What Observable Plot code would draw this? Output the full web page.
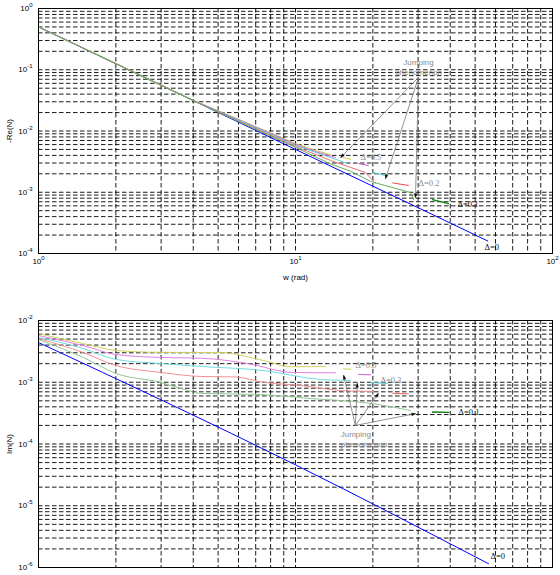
<!DOCTYPE html>
<html><head><meta charset="utf-8">
<script src="https://cdn.jsdelivr.net/npm/d3@7"></script>
<script src="https://cdn.jsdelivr.net/npm/@observablehq/plot@0.6"></script>
<style>
html,body{margin:0;padding:0;background:#fff;}
#chart{width:560px;height:575px;overflow:hidden;}
#chart svg{display:block;}
</style></head><body><div id="chart"></div>
<script>
// ---------- tick labels ----------
const xTicks = [1, 10, 100];
const yTicksTop = [1e-4, 1e-3, 1e-2, 1e-1, 1];
const yTicksBot = [1e-6, 1e-5, 1e-4, 1e-3, 1e-2];

// ---------- top panel: -Re(N) ----------
const wRe0 = [1, 3, 10, 30, 56];
const re0  = [0.5, 0.056, 0.005, 5.6e-4, 1.6e-4];            // Δ=0
const wReA = [1, 2, 4, 7, 10, 12, 13.7];
const reA  = [0.505, 0.127, 0.0318, 0.0118, 0.00626, 0.0048, 0.0041];   // Δ=0.5
const wReAj = [15.3, 16.4];      const reAj = [3.7e-3, 3.45e-3];
const wReB = [1, 2, 4, 7, 10, 12, 14.3];
const reB  = [0.503, 0.126, 0.0316, 0.0116, 0.00605, 0.0046, 0.0037];   // Δ=0.4
const wReBj = [17.6, 19.2];      const reBj = [2.95e-3, 2.73e-3];
const wReC = [1, 2, 4, 7, 10, 13.7, 15.9];
const reC  = [0.502, 0.126, 0.0315, 0.0114, 0.00581, 0.0037, 0.00295]; // Δ=0.3
const wReCj = [19.9, 22.4];      const reCj = [2.1e-3, 1.88e-3];
const wReD = [1, 2, 4, 7, 10, 13.7, 16.4, 18.7, 20.5];
const reD  = [0.501, 0.125, 0.0314, 0.011, 0.0056, 0.0033, 0.00254, 0.0021, 0.00139]; // Δ=0.2
const wReDj = [23.9, 27.5];      const reDj = [1.42e-3, 1.29e-3];
const wReE = [1, 2, 4, 7, 10, 13.7, 16.4, 19.6, 28, 28.8];
const reE  = [0.5, 0.125, 0.0313, 0.0106, 0.0054, 0.0029, 0.0022, 0.0015, 9.9e-4, 7.6e-4]; // Δ=0.1
const wReEj = [34.1, 39.4];      const reEj = [7.6e-4, 6.5e-4];

// ---------- bottom panel: Im(N) ----------
const wIm0 = [1, 10, 56.4];
const im0  = [4.4e-3, 4.6e-5, 1.15e-6];                         // Δ=0
const wImA = [1, 1.5, 2, 3, 5.1, 7.5, 9.6, 13.1];
const imA  = [6.15e-3, 4.2e-3, 3.27e-3, 3.05e-3, 3.03e-3, 2.25e-3, 1.78e-3, 1.8e-3];
const wImAj = [15.4, 16.4];      const imAj = [1.65e-3, 1.62e-3];
const wImB = [1, 1.5, 2, 3, 4.3, 6.5, 9.8, 14.3];
const imB  = [5.71e-3, 3.9e-3, 2.81e-3, 2.52e-3, 2.45e-3, 2.01e-3, 1.44e-3, 1.42e-3];
const wImBj = [17.6, 19.6];      const imBj = [1.34e-3, 1.32e-3];
const wImC = [1, 1.5, 2, 3, 4.3, 7.5, 12.5, 16.4];
const imC  = [5.31e-3, 3.5e-3, 2.34e-3, 2.01e-3, 1.8e-3, 1.55e-3, 1.11e-3, 1.07e-3];
const wImCj = [19.6, 22.8];      const imCj = [9.9e-4, 9.55e-4];
const wImD = [1, 1.5, 2, 3, 4.3, 5.8, 7.5, 10.5, 15, 20.1];
const imD  = [5.12e-3, 3.0e-3, 1.87e-3, 1.44e-3, 1.24e-3, 1.22e-3, 1.0e-3, 8.85e-4, 7.35e-4, 7.1e-4];
const wImDj = [23.9, 27.5];      const imDj = [6.6e-4, 6.5e-4];
const wImE = [1, 1.5, 2, 3, 3.7, 4.3, 7.3, 11.4, 20, 28];
const imE  = [4.93e-3, 2.5e-3, 1.39e-3, 9.9e-4, 7.6e-4, 6.6e-4, 6.33e-4, 5.46e-4, 4.5e-4, 3.49e-4];
const wImEj = [34.1, 39.4];      const imEj = [3.3e-4, 3.25e-4];

// ---------- annotations ----------
const topLabelText = ["Δ=0.5", "Δ=0.2", "Δ=0.1", "Δ=0"];
const topLabelW = [17.9, 30.1, 42.7, 54.4];
const topLabelV = [3.7e-3, 1.4e-3, 6.3e-4, 1.25e-4];
const topLabelDark = [false, false, true, true];
const botLabelText = ["Δ=0.5", "Δ=0.3", "Δ=0.1", "Δ=0"];
const botLabelW = [17.1, 21.4, 43.1, 57.4];
const botLabelV = [1.87e-3, 1.07e-3, 3.24e-4, 1.51e-6];
const botLabelDark = [false, false, true, true];
const noteText = ["Jumping", "phenomenon"];
const topNoteW = [30.1, 30.1];   const topNoteV = [0.131, 0.09];
const botNoteW = [15.0, 15.0];   const botNoteV = [1.43e-4, 9.8e-5];
const topArrowFrom = [30.1, 0.075];
const topArrowTipW = [15.0, 22.4, 29.3];
const topArrowTipV = [3.7e-3, 1.68e-3, 8.2e-4];
const botArrowFrom = [17.1, 2.0e-4];
const botArrowTipW = [15.4, 17.4, 21.0, 29.3];
const botArrowTipV = [1.29e-3, 9.55e-4, 6.57e-4, 3.1e-4];

// ---------- helpers ----------
const sansFont = "'Liberation Sans', Arial, Helvetica, sans-serif";
const serifFont = "'Liberation Serif', 'Times New Roman', serif";
const pts = (ws, vs) => ws.map((w, i) => ({w, v: vs[i]}));
function grid(lo, hi) { const g = []; for (let e = lo; e < hi; e++) for (let k = 1; k < 10; k++) g.push(+(k * Math.pow(10, e)).toPrecision(6)); g.push(Math.pow(10, hi)); return g; }
const expFmt = d => "10^" + Math.round(Math.log10(d));
const gridStyle = {stroke: "#000", strokeWidth: 0.9, strokeDasharray: "4.5,2.5"};
const labels = (txt, ws, vs, dark) => txt.map((t, i) => ({t, w: ws[i], v: vs[i], c: dark[i] ? "#111" : "#8a8a8a"}));
const arrows = (from, tw, tv) => tw.map((w, i) => ({x1: from[0], y1: from[1], x2: w, y2: tv[i]}));

function lineMarks(list, curve) {
  return list.map(([ws, vs, color, sw]) => Plot.line(pts(ws, vs), {x: "w", y: "v", stroke: color, strokeWidth: sw || 1, curve}));
}

function panel({height, marginTop, marginBottom, yDomain, yTicks, series, curve, lab, notes, arr, yLabel, xLabel, showX}) {
  const [lo, hi] = [Math.round(Math.log10(yDomain[0])), Math.round(Math.log10(yDomain[1]))];
  const marks = [
    Plot.ruleX(grid(0, 2), gridStyle),
    Plot.ruleY(grid(lo, hi), gridStyle),
    ...lineMarks(series, curve),
    Plot.frame({stroke: "#000", strokeWidth: 1}),
    Plot.axisY({ticks: yTicks, tickFormat: expFmt, tickSize: 0, tickPadding: 6, label: null}),
    Plot.text([yLabel], {text: d => d, frameAnchor: "left", rotate: -90, dx: -29, textAnchor: "middle", lineAnchor: "middle", fontSize: 8}),
    Plot.arrow(arr, {x1: "x1", y1: "y1", x2: "x2", y2: "y2", stroke: "#777", strokeWidth: 0.8, headLength: 7, headAngle: 36}),
    Plot.text(lab, {x: "w", y: "v", text: "t", fill: "c", textAnchor: "start", lineAnchor: "middle", fontFamily: serifFont, fontSize: 8.5}),
    Plot.text(notes.data, {x: "w", y: "v", text: "t", fill: "#8a8a8a", textAnchor: notes.anchor, lineAnchor: "middle", fontSize: 8})
  ];
  if (showX) {
    marks.push(Plot.axisX({ticks: xTicks, tickFormat: expFmt, tickSize: 0, tickPadding: 5, label: null}));
    marks.push(Plot.text([xLabel], {text: d => d, frameAnchor: "bottom", dy: 24, lineAnchor: "middle", fontSize: 8}));
  } else {
    marks.push(Plot.axisX({ticks: [], label: null}));
  }
  return Plot.plot({
    width: 560, height, marginLeft: 38, marginRight: 8, marginTop, marginBottom,
    style: {fontFamily: sansFont, fontSize: "8px", background: "white", overflow: "visible", color: "#000"},
    x: {type: "log", domain: [1, 100]},
    y: {type: "log", domain: yDomain},
    marks
  });
}

const NS = "http://www.w3.org/2000/svg";
function supify(svg) {
  svg.querySelectorAll("text").forEach(t => {
    const m = /^10\^(-?\d+)$/.exec(t.textContent);
    if (!m) return;
    t.textContent = "";
    const a = document.createElementNS(NS, "tspan"); a.textContent = "10";
    const b = document.createElementNS(NS, "tspan"); b.textContent = m[1];
    b.setAttribute("dy", "-4"); b.setAttribute("font-size", "6");
    t.append(a, b);
  });
}
// turn the open arrow heads drawn by Plot.arrow into filled black heads
function fillHeads(svg) {
  svg.querySelectorAll('g[aria-label="arrow"] path').forEach(p => {
    const n = (p.getAttribute("d").match(/-?\d*\.?\d+(?:e-?\d+)?/g) || []).map(Number);
    if (n.length < 10) return;
    p.setAttribute("d", `M${n[0]},${n[1]}L${n[2]},${n[3]}`);
    const tri = document.createElementNS(NS, "path");
    tri.setAttribute("d", `M${n[4]},${n[5]}L${n[6]},${n[7]}L${n[8]},${n[9]}Z`);
    tri.setAttribute("fill", "#000");
    tri.setAttribute("stroke", "#000");
    tri.setAttribute("stroke-width", "0.5");
    p.parentNode.appendChild(tri);
  });
}

const topSeries = [
  [wRe0, re0, "#0000ff"],
  [wReA, reA, "#c9c94a"], [wReAj, reAj, "#d0d040"],
  [wReB, reB, "#dd66dd"], [wReBj, reBj, "#d050d0"],
  [wReC, reC, "#55d0dc"], [wReCj, reCj, "#40c8d0"],
  [wReD, reD, "#f07070"], [wReDj, reDj, "#f04848"],
  [wReE, reE, "#60b060"], [wReEj, reEj, "#0a7a0a", 1.3]
];
const botSeries = [
  [wIm0, im0, "#0000ff"],
  [wImA, imA, "#d0d060"], [wImAj, imAj, "#d0d040"],
  [wImB, imB, "#e47ee4"], [wImBj, imBj, "#d860d8"],
  [wImC, imC, "#70dbe2"], [wImCj, imCj, "#50ccd4"],
  [wImD, imD, "#f49090"], [wImDj, imDj, "#f06060"],
  [wImE, imE, "#90c890"], [wImEj, imEj, "#0a7a0a", 1.3]
];

const topPlot = panel({
  height: 285, marginTop: 8, marginBottom: 32, yDomain: [1e-4, 1], yTicks: yTicksTop,
  series: topSeries, curve: "linear",
  lab: labels(topLabelText, topLabelW, topLabelV, topLabelDark),
  notes: {data: noteText.map((t, i) => ({t, w: topNoteW[i], v: topNoteV[i]})), anchor: "middle"},
  arr: arrows(topArrowFrom, topArrowTipW, topArrowTipV),
  yLabel: "-Re(N)", xLabel: "w (rad)", showX: true
});
const botPlot = panel({
  height: 290, marginTop: 35, marginBottom: 8, yDomain: [1e-6, 1e-2], yTicks: yTicksBot,
  series: botSeries, curve: "monotone-x",
  lab: labels(botLabelText, botLabelW, botLabelV, botLabelDark),
  notes: {data: noteText.map((t, i) => ({t, w: botNoteW[i], v: botNoteV[i]})), anchor: "start"},
  arr: arrows(botArrowFrom, botArrowTipW, botArrowTipV),
  yLabel: "Im(N)", xLabel: "", showX: false
});
[topPlot, botPlot].forEach(s => { supify(s); fillHeads(s); });
const root = document.getElementById("chart");
root.append(topPlot, botPlot);
</script></body></html>
